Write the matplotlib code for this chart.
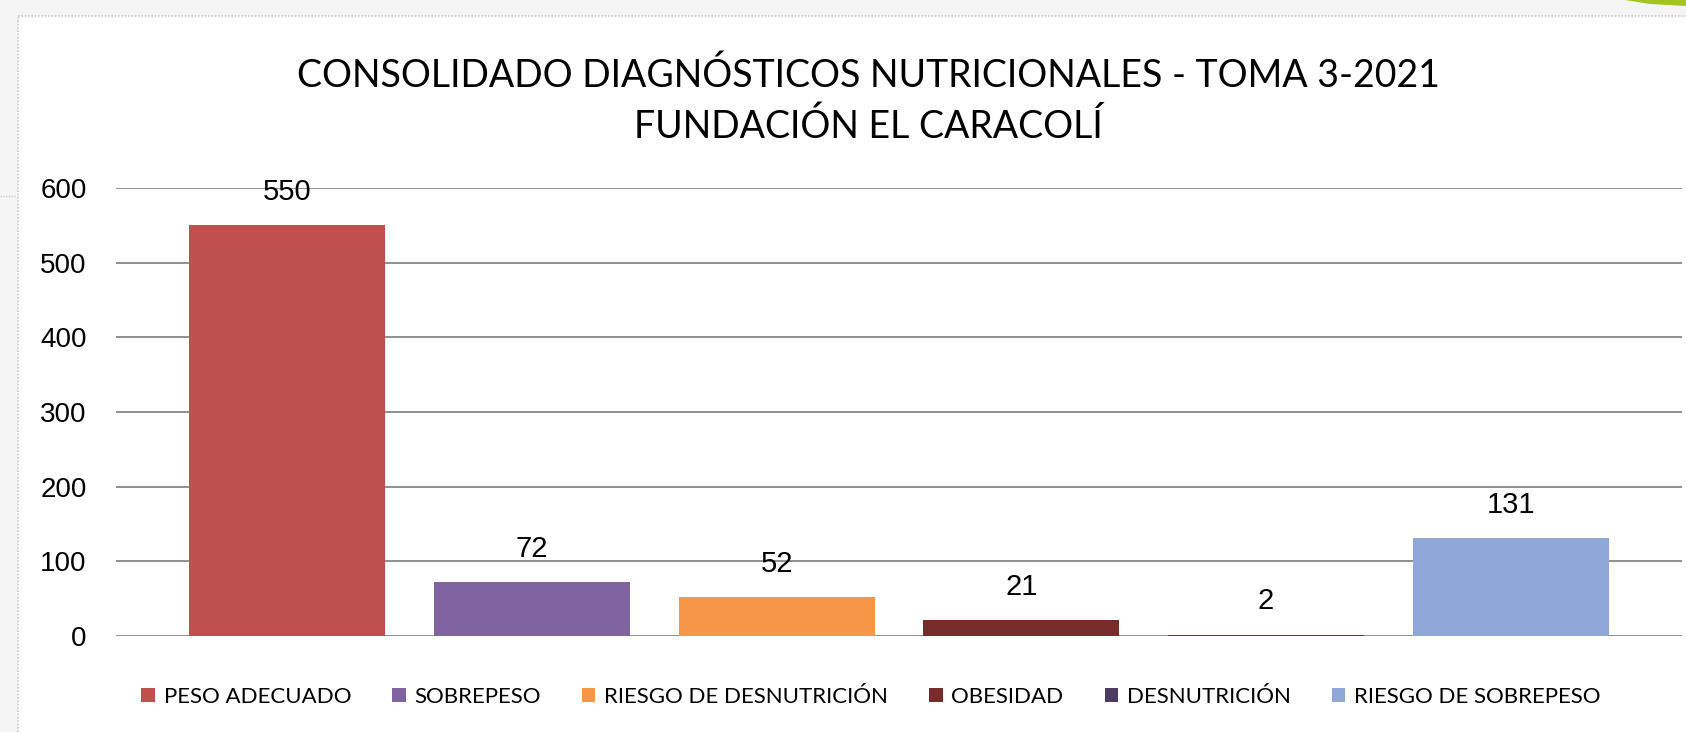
import matplotlib
matplotlib.use("Agg")
import matplotlib.pyplot as plt
from matplotlib.patches import Rectangle, Polygon
from matplotlib.lines import Line2D

categorias = ["PESO ADECUADO", "SOBREPESO", "RIESGO DE DESNUTRICIÓN",
              "OBESIDAD", "DESNUTRICIÓN", "RIESGO DE SOBREPESO"]
valores = [550, 72, 52, 21, 2, 131]
colores = ["#C0504D", "#8064A2", "#F79646", "#772C2A", "#4D3B62", "#8EA6D8"]
titulo = "CONSOLIDADO DIAGNÓSTICOS NUTRICIONALES - TOMA 3-2021\nFUNDACIÓN EL CARACOLÍ"
yticks = [0, 100, 200, 300, 400, 500, 600]

W, H = 1686, 732
fig = plt.figure(figsize=(W / 100, H / 100), dpi=100, facecolor="#F5F5F5")

# white chart area with dotted frame (screenshot border)
fig.patches.append(Rectangle((18 / W, 0), 1, 1 - 16 / H, transform=fig.transFigure,
                             facecolor="white", edgecolor="none", zorder=-5))
fig.add_artist(Line2D([18 / W, 1], [1 - 16 / H] * 2, transform=fig.transFigure,
                      color="#C8C8C8", lw=1.2, ls=(0, (1, 1)), zorder=-4))
fig.add_artist(Line2D([18 / W] * 2, [0, 1 - 16 / H], transform=fig.transFigure,
                      color="#C8C8C8", lw=1.2, ls=(0, (1, 1)), zorder=-4))
fig.add_artist(Line2D([0, 17 / W], [1 - 196 / H] * 2, transform=fig.transFigure,
                      color="#D0D0D0", lw=1.0, ls=(0, (1, 1)), zorder=-4))
fig.patches.append(Polygon([(1625 / W, 1), (1686 / W, 1), (1686 / W, 1 - 6 / H), (1650 / W, 1 - 4 / H)],
                           closed=True, transform=fig.transFigure,
                           facecolor="#A4C520", edgecolor="none", zorder=-4))

ax = fig.add_axes([116 / W, 1 - 636 / H, (1682 - 116) / W, (636 - 188) / H])
ax.set_zorder(2)
ax.set_facecolor("none")

x = list(range(len(categorias)))
ax.bar(x, valores, width=0.8, color=colores, zorder=3)

for xi, v in zip(x, valores):
    ax.annotate(str(v), (xi, v), xytext=(0, 14), textcoords="offset points",
                ha="center", va="bottom", fontsize=21, family="Liberation Sans", color="#000000")

ax.set_ylim(0, 600)
ax.set_xlim(-0.7, 5.7)
ax.set_yticks(yticks)
ax.set_xticks([])
ax.yaxis.grid(True, color="#878787", linewidth=1.3)
ax.set_axisbelow(True)
for s in ax.spines.values():
    s.set_visible(False)
ax.tick_params(axis="y", length=0, pad=21, labelsize=20)
for lbl in ax.get_yticklabels():
    lbl.set_family("Liberation Sans")

fig.text(868 / W, 1 - 101 / H, titulo, ha="center", va="center", fontsize=27,
         family="Lato", linespacing=1.5, color="#000000")

handles = [Rectangle((0, 0), 1, 1, facecolor=c) for c in colores]
fig.legend(handles, categorias, loc="center", bbox_to_anchor=(871 / W, 1 - 697 / H),
           ncol=6, frameon=False, handlelength=0.6, handleheight=0.6,
           handletextpad=0.4, columnspacing=1.85,
           prop={"family": "Lato", "size": 16})

fig.savefig("out.png", dpi=100, facecolor=fig.get_facecolor())
